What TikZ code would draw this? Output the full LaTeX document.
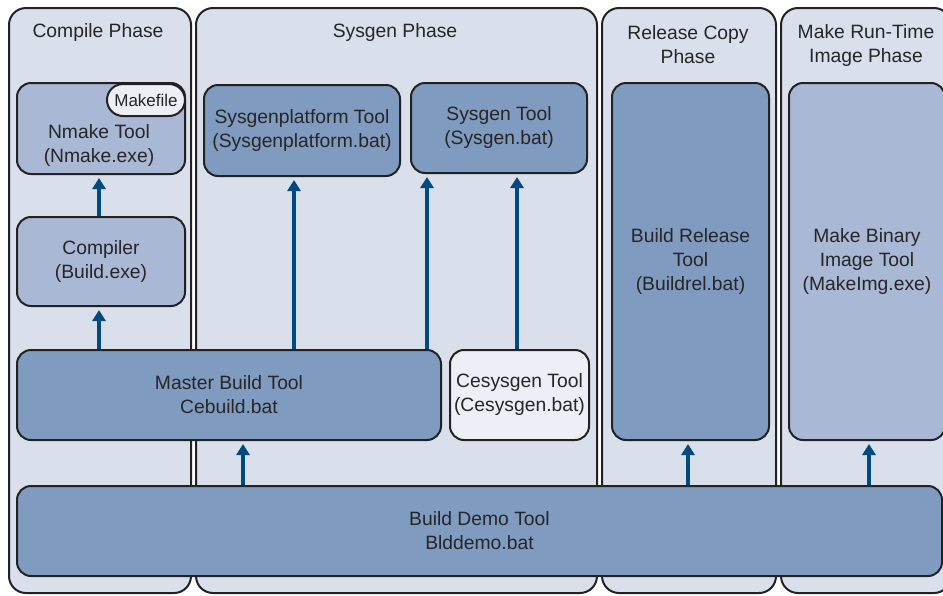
\documentclass[tikz,border=0pt]{standalone}
\usepackage{fontspec}
\setmainfont{Liberation Sans}
\usetikzlibrary{arrows.meta}
\definecolor{panelfill}{HTML}{D9E0EC}
\definecolor{toolfill}{HTML}{7F9BC0}
\definecolor{lightfill}{HTML}{A9B8D4}
\definecolor{palefill}{HTML}{ECEFF6}
\definecolor{edge}{HTML}{222222}
\definecolor{arrowblue}{HTML}{004A80}
\definecolor{textcol}{HTML}{262626}

\begin{document}
\begin{tikzpicture}[x=1pt,y=-1pt,
  txt/.style={text=textcol,align=center,font=\fontsize{19.3}{24}\selectfont,inner sep=0pt},
  panel/.style={draw=edge,fill=panelfill,line width=2pt,rounded corners=17pt,
    inner sep=0pt,minimum width=#1,minimum height=585pt},
  tool/.style={draw=edge,fill=toolfill,line width=2pt,rounded corners=14pt,
    txt,inner sep=0pt},
  lighttool/.style={tool,fill=lightfill},
  paletool/.style={tool,fill=palefill},
  arr/.style={draw=arrowblue,line width=3.5pt,shorten >=3pt,
    -{Triangle[length=11pt,width=13pt]}},
]
\useasboundingbox (0,0) rectangle (943,595);
\clip (0,0) rectangle (943,595);

% phase panels
\node[panel=182pt] (pcompile) at (100,300.5) {};
\node[panel=401pt] (psysgen)  at (396.5,300.5) {};
\node[panel=174pt] (prelease) at (689,300.5) {};
\node[panel=170pt] (pimage)   at (866,300.5) {};

\node[txt] (tcompile) at (98,33) {Compile Phase};
\node[txt] (tsysgen)  at (395,33) {Sysgen Phase};
\node[txt] (trelease) at (688,45) {Release Copy\\Phase};
\node[txt] (timage)   at (866,46) {Make Run-Time\\Image Phase};

% compile phase tools
\node[lighttool,minimum width=168pt,minimum height=91pt] (nmake) at (101,128.5) {};
\node[txt] (nmaketext) at (99,146) {Nmake Tool\\(Nmake.exe)};
\node[paletool,rounded corners=16pt,minimum width=78pt,minimum height=32pt,
      font=\fontsize{17}{20}\selectfont] (makefile) at (146,100) {Makefile};
\node[lighttool,minimum width=168pt,minimum height=89pt] (compiler) at (101,261.5)
  {Compiler\\(Build.exe)};

% sysgen phase tools
\node[tool,minimum width=196pt,minimum height=91pt] (sgp) at (302,130.5)
  {Sysgenplatform Tool\\(Sysgenplatform.bat)};
\node[tool,minimum width=176pt,minimum height=90pt] (sgen) at (499,128)
  {Sysgen Tool\\(Sysgen.bat)};
\node[tool,minimum width=424pt,minimum height=90pt] (master) at (229,395)
  {Master Build Tool\\Cebuild.bat};
\node[paletool,minimum width=139pt,minimum height=90pt] (cesysgen) at (519.5,395)
  {Cesysgen Tool\\(Cesysgen.bat)};

% release copy and image tools
\node[tool,minimum width=157pt,minimum height=357pt] (buildrel) at (690.5,261.5)
  {Build Release\\Tool\\(Buildrel.bat)};
\node[lighttool,minimum width=156pt,minimum height=357pt] (makeimg) at (867,261.5)
  {Make Binary\\Image Tool\\(MakeImg.exe)};

% build demo tool
\node[tool,minimum width=925pt,minimum height=90pt] (blddemo) at (479.5,531)
  {Build Demo Tool\\Blddemo.bat};

% connectors
\coordinate (aNmake) at ([xshift=-2pt]nmake.south);
\coordinate (aComp)  at ([xshift=-2pt]compiler.south);
\coordinate (aSgp)   at ([xshift=-8pt]sgp.south);
\coordinate (aSgenL) at ([xshift=-72pt]sgen.south);
\coordinate (aSgenR) at ([xshift=18pt]sgen.south);
\coordinate (aMaster) at ([xshift=14pt]master.south);
\coordinate (aRel)   at ([xshift=-2.5pt]buildrel.south);
\coordinate (aImg)   at ([xshift=2pt]makeimg.south);

\draw[arr] (aNmake |- compiler.north) -- (aNmake);
\draw[arr] (aComp |- master.north) -- (aComp);
\draw[arr] (aSgp |- master.north) -- (aSgp);
\draw[arr] (aSgenL |- master.north) -- (aSgenL);
\draw[arr] (aSgenR |- cesysgen.north) -- (aSgenR);
\draw[arr] (aMaster |- blddemo.north) -- (aMaster);
\draw[arr] (aRel |- blddemo.north) -- (aRel);
\draw[arr] (aImg |- blddemo.north) -- (aImg);
\end{tikzpicture}
\end{document}
